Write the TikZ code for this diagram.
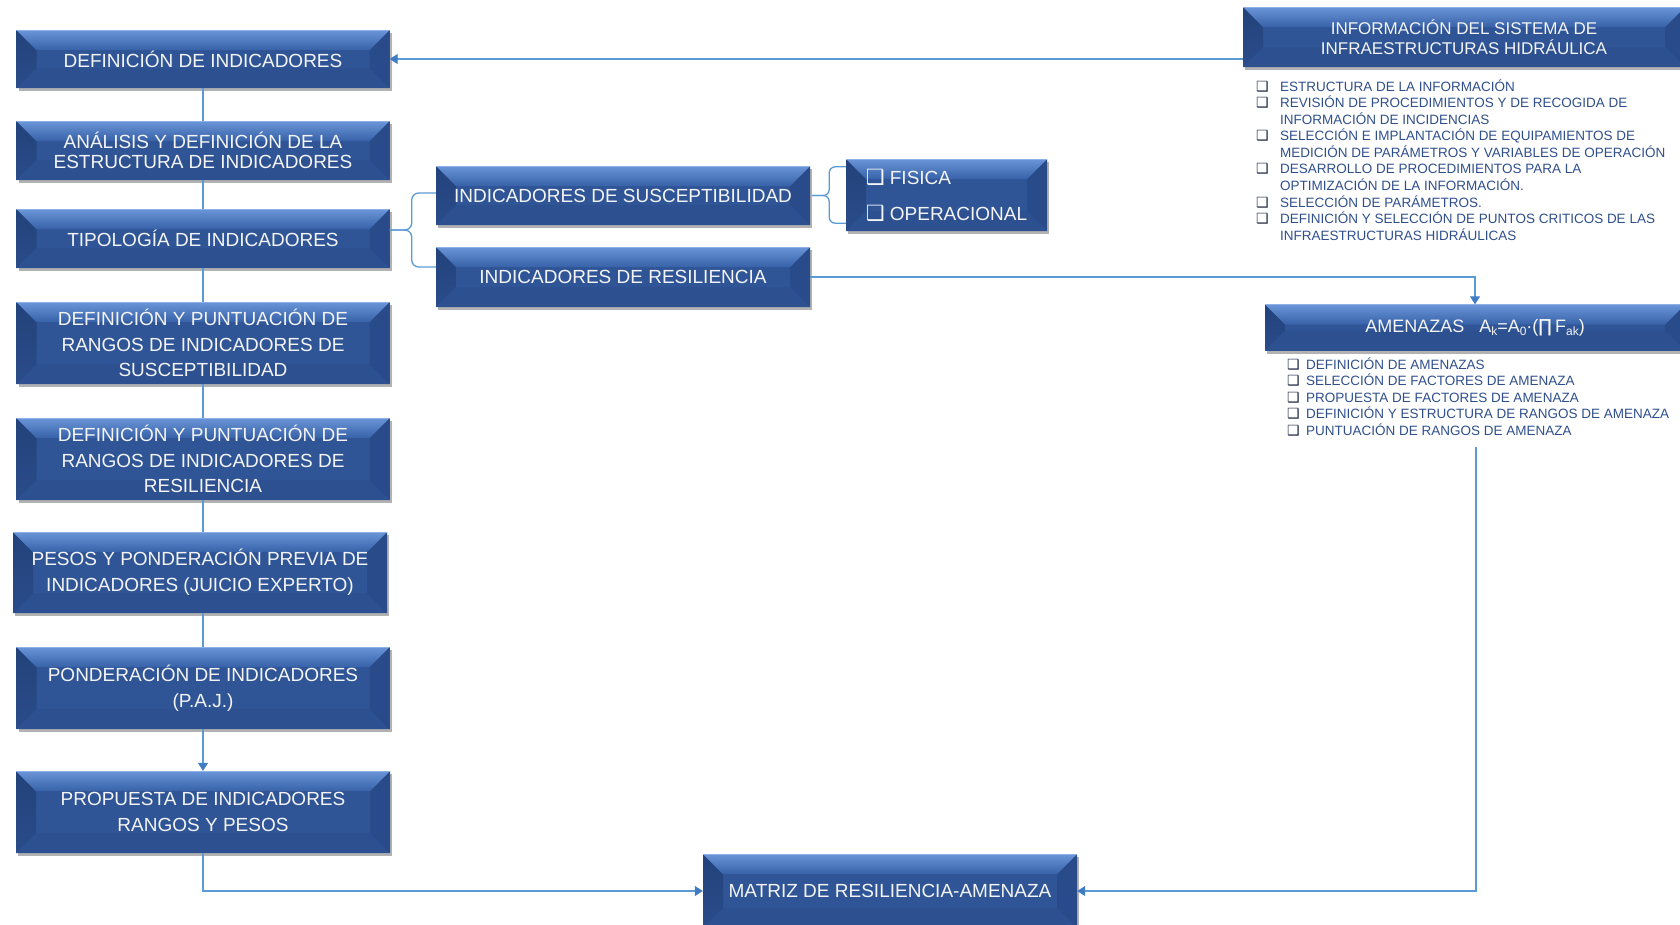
\documentclass[tikz,border=0pt]{standalone}
\usepackage{fontspec}
\setmainfont{Liberation Sans}
\newfontfamily\symfont{DejaVu Sans}
\usetikzlibrary{calc,shadows,arrows.meta}

\definecolor{boxbase}{HTML}{2F5597}
\definecolor{bevtopA}{HTML}{6A95D8}
\definecolor{bevtopB}{HTML}{3862A8}
\definecolor{bevleftA}{HTML}{22427A}
\definecolor{bevleftB}{HTML}{2A4C8A}
\definecolor{bevright}{HTML}{2A4B8A}
\definecolor{bevbottom}{HTML}{2D5090}
\definecolor{bevedge}{HTML}{8DB0E6}
\definecolor{linkblue}{HTML}{5B9BD5}
\definecolor{tipblue}{HTML}{3F7CC4}
\definecolor{listblue}{HTML}{2F4F8C}
\definecolor{bulletdark}{HTML}{1A2640}
\definecolor{boxtext}{HTML}{F4F4F4}

\newdimen\bevd \bevd=20pt
\newcommand\boxbul{{\fontsize{21}{21}\symfont ❑}}
\newcommand\listbul{{\fontsize{14}{14}\symfont\color{bulletdark}❑}}
\newcommand\lowsub[1]{\raisebox{-3.5pt}{\fontsize{12}{12}\selectfont #1}}

\tikzset{
  x=1pt, y=-1pt,
  bevelbox/.style={
    rectangle, inner sep=0pt, fill=boxbase, text=boxtext, align=center,
    font=\fontsize{19}{25.7}\selectfont,
    drop shadow={shadow xshift=2pt, shadow yshift=-3pt, opacity=0.3, fill=black},
    path picture={
      \coordinate (q1) at (path picture bounding box.north west);
      \coordinate (q2) at (path picture bounding box.north east);
      \coordinate (q3) at (path picture bounding box.south east);
      \coordinate (q4) at (path picture bounding box.south west);
      \coordinate (r1) at ($(q1)+(\bevd,-\bevd)$);
      \coordinate (r2) at ($(q2)+(-\bevd,-\bevd)$);
      \coordinate (r3) at ($(q3)+(-\bevd,\bevd)$);
      \coordinate (r4) at ($(q4)+(\bevd,\bevd)$);
      \fill[bevbottom] (q4) -- (r4) -- (r3) -- (q3) -- cycle;
      \fill[top color=bevleftA, bottom color=bevleftB] (q1) -- (r1) -- (r4) -- (q4) -- cycle;
      \fill[bevright] (q2) -- (r2) -- (r3) -- (q3) -- cycle;
      \fill[top color=bevtopA, bottom color=bevtopB] (q1) -- (q2) -- (r2) -- (r1) -- cycle;
      \draw[bevedge, line width=1pt] (q1) -- (q2);
    }},
  colbox/.style={bevelbox, minimum width=373pt, minimum height=59pt},
  tallbox/.style={bevelbox, minimum width=373pt, minimum height=82pt},
  conn/.style={draw=linkblue, line width=1.3pt},
  arr/.style={-{Triangle[width=10pt,length=8pt,color=tipblue]}},
  bracelink/.style={draw=linkblue, line width=1.3pt, rounded corners=7pt},
  listtext/.style={inner sep=0pt, text=listblue, font=\fontsize{13.5}{16.4}\selectfont, align=left},
}

\begin{document}
\begin{tikzpicture}
\useasboundingbox (0,0) rectangle (1680,924);
\clip (0,0) rectangle (1680,924);

% left column: indicator workflow
\node[colbox, minimum height=58pt] (def) at (203,59) {DEFINICIÓN DE INDICADORES};
\node[colbox, font=\fontsize{19}{20.5}\selectfont] (ana) at (203,150.5) {ANÁLISIS Y DEFINICIÓN DE LA\\ESTRUCTURA  DE INDICADORES};
\node[colbox] (tip) at (203,238.5) {TIPOLOGÍA DE INDICADORES};
\node[tallbox] (dps) at (203,343) {DEFINICIÓN Y PUNTUACIÓN  DE\\RANGOS DE INDICADORES DE\\SUSCEPTIBILIDAD};
\node[tallbox] (dpr) at (203,459) {DEFINICIÓN Y PUNTUACIÓN  DE\\RANGOS DE INDICADORES DE\\RESILIENCIA};
\node[tallbox, minimum width=374pt, minimum height=81pt] (pes) at (200,572.5) {PESOS Y PONDERACIÓN PREVIA DE\\INDICADORES (JUICIO EXPERTO)};
\node[tallbox] (pon) at (203,688) {PONDERACIÓN  DE INDICADORES\\(P.A.J.)};
\node[tallbox, minimum width=374pt] (pro) at (203,812) {PROPUESTA  DE INDICADORES\\RANGOS Y PESOS};

% indicator types
\node[bevelbox, minimum width=374pt, minimum height=59pt] (sus) at (623,195.5) {INDICADORES DE SUSCEPTIBILIDAD};
\node[bevelbox, minimum width=374pt, minimum height=60pt] (resn) at (623,277) {INDICADORES DE RESILIENCIA};
\node[bevelbox, minimum width=201pt, minimum height=72pt, font=\fontsize{19}{36}\selectfont] (fis) at (946.5,195)
  {\begin{tabular}{@{}l@{}l@{}}\makebox[24pt][l]{\boxbul}&FISICA\\\makebox[24pt][l]{\boxbul}&OPERACIONAL\end{tabular}};

% information system
\node[bevelbox, minimum width=442pt, minimum height=60pt, font=\fontsize{17}{20}\selectfont] (info) at (1464,37)
  {INFORMACIÓN DEL SISTEMA DE\\INFRAESTRUCTURAS HIDRÁULICA};
\node[listtext, anchor=base west] (infolist) at (1256,91) {\begin{tabular}[t]{@{}l@{}l@{}}
  \makebox[24pt][l]{\listbul}&ESTRUCTURA DE LA INFORMACIÓN\\
  \makebox[24pt][l]{\listbul}&REVISIÓN  DE PROCEDIMIENTOS Y DE RECOGIDA DE\\
  &INFORMACIÓN  DE INCIDENCIAS\\
  \makebox[24pt][l]{\listbul}&SELECCIÓN E IMPLANTACIÓN  DE EQUIPAMIENTOS  DE\\
  &MEDICIÓN  DE PARÁMETROS Y VARIABLES DE OPERACIÓN\\
  \makebox[24pt][l]{\listbul}&DESARROLLO DE PROCEDIMIENTOS PARA LA\\
  &OPTIMIZACIÓN  DE LA INFORMACIÓN.\\
  \makebox[24pt][l]{\listbul}&SELECCIÓN DE PARÁMETROS.\\
  \makebox[24pt][l]{\listbul}&DEFINICIÓN  Y SELECCIÓN DE PUNTOS CRITICOS DE LAS\\
  &INFRAESTRUCTURAS HIDRÁULICAS
\end{tabular}};

% threats
\node[bevelbox, minimum width=420pt, minimum height=46pt, font=\fontsize{18}{22}\selectfont] (ame) at (1475,327.5)
  {AMENAZAS\hspace{15pt}A\lowsub{k}=A\lowsub{0}·({\symfont ∏}\,F\lowsub{ak})};
\node[listtext, anchor=base west] (amelist) at (1287,369) {\begin{tabular}[t]{@{}l@{}l@{}}
  \makebox[19pt][l]{\listbul}&DEFINICIÓN  DE AMENAZAS\\
  \makebox[19pt][l]{\listbul}&SELECCIÓN DE FACTORES DE AMENAZA\\
  \makebox[19pt][l]{\listbul}&PROPUESTA DE FACTORES DE AMENAZA\\
  \makebox[19pt][l]{\listbul}&DEFINICIÓN  Y ESTRUCTURA DE RANGOS DE AMENAZA\\
  \makebox[19pt][l]{\listbul}&PUNTUACIÓN  DE RANGOS DE AMENAZA
\end{tabular}};
\coordinate (amefoot) at (1476,447);

% result matrix
\node[bevelbox, minimum width=374pt, minimum height=74pt] (mat) at (890,891) {MATRIZ DE RESILIENCIA-AMENAZA};

% workflow links
\draw[conn, arr] (info.west |- def.east) -- (def.east);
\draw[conn] (def.south) -- (ana.north);
\draw[conn] (ana.south) -- (tip.north);
\draw[conn] (tip.south) -- (dps.north);
\draw[conn] (dps.south) -- (dpr.north);
\draw[conn] (dpr.south) -- (dpr.south |- pes.north);
\draw[conn] (pes.south -| pon.north) -- (pon.north);
\draw[conn, arr] (pon.south) -- (pro.north);
\draw[conn, arr] (pro.south) |- (mat.west);
\draw[conn, arr] (resn.east) -| (ame.north);
\draw[conn, arr] (amefoot) |- (mat.east);

% braces
\coordinate (lbt) at ($(tip.east)+(0,-8.5)$);
\coordinate (lbs) at ($(lbt)+(22,0)$);
\coordinate (lbu) at ($(sus.west)+(0,-2.5)$);
\coordinate (lbd) at ($(resn.west)+(0,-10)$);
\draw[bracelink] (lbt) -- (lbs) -- (lbs |- lbu) -- (lbu);
\draw[bracelink] (lbt) -- (lbs) -- (lbs |- lbd) -- (lbd);

\coordinate (rbt) at ($(sus.east)+(2,0)$);
\coordinate (rbs) at ($(rbt)+(17,0)$);
\coordinate (rbu) at ($(fis.north west)+(0,8)$);
\coordinate (rbd) at ($(fis.south west)+(0,-8)$);
\draw[bracelink, rounded corners=6pt] (rbt) -- (rbs) -- (rbs |- rbu) -- (rbu);
\draw[bracelink, rounded corners=6pt] (rbt) -- (rbs) -- (rbs |- rbd) -- (rbd);
\end{tikzpicture}
\end{document}
